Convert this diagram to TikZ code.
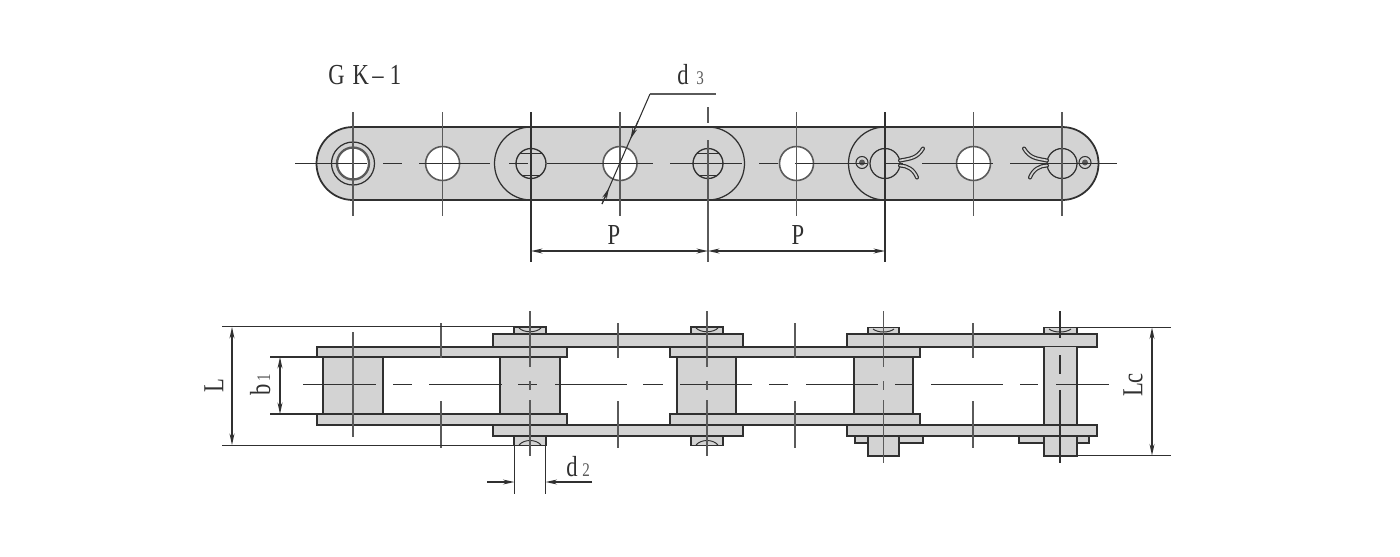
\documentclass[tikz,border=0pt]{standalone}
\usepackage{fontspec}
\setmainfont[FakeStretch=0.78]{Liberation Serif}
\usetikzlibrary{arrows.meta}
\definecolor{plate}{HTML}{D3D3D3}
\definecolor{ink}{HTML}{303030}
\definecolor{midink}{HTML}{5A5A5A}
\newcommand{\bx}[5][1.15pt]{\fill[plate] (#2,#3) rectangle (#4,#5); \draw[draw=ink,line width=#1,line join=miter] (#2,#3) rectangle (#4,#5);}
\tikzset{
  x=0.02cm,y=-0.02cm,
  axis/.style={draw=ink,line width=0.55pt},
  tick/.style={draw=midink,line width=0.85pt},
  dimline/.style={draw=ink,line width=0.6pt},
  dimarrow/.style={draw=ink,line width=0.8pt,{Stealth[length=6.5pt,width=2.8pt]}-{Stealth[length=6.5pt,width=2.8pt]}},
  label/.style={inner sep=0pt,text=ink,font=\fontsize{16.5}{18}\selectfont},
  smalllabel/.style={inner sep=0pt,text=midink,font=\fontsize{11}{12}\selectfont}
}
\begin{document}
\begin{tikzpicture}
\useasboundingbox (0,0) rectangle (1400,556);
\fill[white] (0,0) rectangle (1400,556);
% ---------------- top view ----------------
\def\axisy{163.5}
\fill[plate] (353,127) arc[start angle=-90,end angle=-270,radius=36.5] -- (1062,200) arc[start angle=90,end angle=-90,radius=36.5] -- cycle;
\draw[draw=ink,line width=1pt] (1062,127) -- (353,127) arc[start angle=-90,end angle=-270,radius=36.5] -- (1062,200);
\draw[draw=ink,line width=0.7pt] (531,127) arc[start angle=-90,end angle=-270,radius=36.5];
\draw[draw=ink,line width=0.7pt] (708,127) arc[start angle=-90,end angle=90,radius=36.5];
\draw[draw=ink,line width=0.7pt] (885,127) arc[start angle=-90,end angle=-270,radius=36.5];
\draw[draw=ink,line width=1pt] (1062,127) arc[start angle=-90,end angle=90,radius=36.5];
% open holes
\foreach \hx in {442.6,620,796.5,973.5}{
  \fill[white] (\hx,\axisy) circle[radius=17];
  \draw[draw=midink,line width=0.9pt] (\hx,\axisy) circle[radius=17];
}
% first pin with its bush
\draw[draw=ink,line width=0.7pt] (353,\axisy) circle[radius=21.5];
\fill[white] (353,\axisy) circle[radius=15.5];
\draw[draw=midink,line width=1.3pt] (353,\axisy) circle[radius=16];
% riveted pins
\foreach \px in {531,708}{
  \begin{scope}
    \clip (\px,\axisy) circle[radius=15];
    \draw[ink,line width=1.1pt] (\px-16,153.5) -- (\px+16,153.5);
    \draw[ink,line width=0.8pt] (\px-16,175.5) -- (\px+16,175.5);
  \end{scope}
  \draw[draw=ink,line width=0.75pt] (\px,\axisy) circle[radius=15];
}
% spread pins
\foreach \px/\sx in {885/1,1062/-1}{
  \draw[draw=ink,line width=0.7pt] (\px,\axisy) circle[radius=15];
  \draw[draw=ink,line width=0.6pt] (\px-23*\sx,\axisy-1) circle[radius=6];
  \fill[midink] (\px-23*\sx,\axisy-1) circle[radius=3];
  \foreach \st/\wd in {ink/2.3pt,plate/0.95pt}{
    \draw[\st,line width=\wd,line cap=round] (\px+15*\sx,\axisy-3) .. controls (\px+25*\sx,\axisy-5) and (\px+32*\sx,\axisy-5) .. (\px+38*\sx,\axisy-15);
    \draw[\st,line width=\wd,line cap=round] (\px+15*\sx,\axisy+2) .. controls (\px+22*\sx,\axisy+2) and (\px+29*\sx,\axisy+6) .. (\px+32*\sx,\axisy+14);
  }
}
% top axis
\foreach \a/\b in {295/367,383/402,419/490,509/528,547/653,670/742,759/778,795/867,884/903,922/993,1010/1117}
  \draw[axis] (\a,\axisy) -- (\b,\axisy);
% cross ticks
\foreach \tx in {353,442.6,620,796.5,973.5,1062}
  \draw[tick] (\tx,112) -- (\tx,216);
\draw[dimline,line width=0.9pt] (531,112) -- (531,262);
\draw[tick] (708,107) -- (708,123) (708,140) -- (708,262);
\draw[dimline] (885,112) -- (885,262);
% P dimensions
\coordinate (pa) at (531,251); \coordinate (pb) at (708,251); \coordinate (pc) at (885,251);
\draw[dimarrow] (pa) -- (pb);
\draw[dimarrow] (pb) -- (pc);
\node[label] (p1) at (614,235) {P};
\node[label] (p2) at (798,235) {P};
% d3 leader
\coordinate (ld0) at (602,204); \coordinate (ld1) at (650,94); \coordinate (ld2) at (716,94);
\coordinate (ldA) at (630.5,139); \coordinate (ldB) at (609,188);
\draw[dimline] (ld0) -- (ld1);
\draw[midink,line width=1pt] (ld1) -- (ld2);
\draw[ink,line width=0.6pt,-{Stealth[length=6.5pt,width=2.8pt]}] (638,121) -- (ldA);
\draw[ink,line width=0.6pt,-{Stealth[length=6.5pt,width=2.8pt]}] (602,204) -- (ldB);
\node[label,anchor=base west] (d3) at (677,84) {d};
\node[smalllabel,anchor=base west] (d3s) at (696,84) {3};
\node[label,anchor=base west] (gk) at (328,84) {G\hspace{4.5pt}K\hspace{2pt}–\hspace{3.5pt}1};
% ---------------- lower view ----------------
\def\ly{384.6}
% pin heads (drawn behind plates)
\foreach \px in {530,707}{
  \bx[1pt]{\px-16}{336}{\px+16}{326.7}
  \bx[1pt]{\px-16}{434}{\px+16}{445.5}
  \draw[ink,line width=0.55pt] (\px-11,328) .. controls (\px-6,333) and (\px+6,333) .. (\px+11,328);
  \draw[ink,line width=0.55pt] (\px-11,445) .. controls (\px-6,439) and (\px+6,439) .. (\px+11,445);
}
\bx[1pt]{867.7}{336}{899.3}{327.5}
\draw[ink,line width=0.55pt] (873,329) .. controls (878,333) and (889,333) .. (894,329);
\bx[1pt]{1044}{336}{1076.7}{327.5}
\draw[ink,line width=0.55pt] (1049,329) .. controls (1054,333) and (1066,333) .. (1071,329);
\bx[1pt]{854.7}{434}{923}{443.3}
\bx[1pt]{1019}{434}{1089.3}{443.3}
\bx[1pt]{867.7}{434}{899.3}{455.7}
\bx[1pt]{1044}{334}{1076.7}{455.7}
% rollers
\bx{322.7}{357}{382.7}{414}
\bx{500}{357}{560}{414}
\bx{676.7}{357}{736}{414}
\bx{854}{357}{913}{414}
% outer plates
\bx{493}{334.3}{743.3}{346.5}
\bx{493}{425}{743.3}{436}
\bx{847}{334.3}{1096.7}{346.5}
\bx{847}{425}{1096.7}{436}
% inner plates
\bx{316.7}{346.7}{566.7}{357}
\bx{316.7}{414}{566.7}{425}
\bx{670}{346.7}{920}{357}
\bx{670}{414}{920}{425}
\bx[0.9pt]{1044}{346.5}{1076.7}{425}
% lower axis
\foreach \a/\b in {303/376,393/412,429/502,518/537,555/627,643/663,680/752,769/788,806/878,895/913,931/1003,1020/1038,1056/1109}
  \draw[axis] (\a,\ly) -- (\b,\ly);
% lower ticks
\draw[tick] (353,332) -- (353,437);
\foreach \tx in {441,618,795,973}{
  \draw[tick] (\tx,323) -- (\tx,358);
  \draw[tick] (\tx,401) -- (\tx,448);
}
\foreach \tx/\e in {530/456,707/456,883.5/463}{
  \draw[tick] (\tx,311) -- (\tx,367);
  \draw[tick] (\tx,381) -- (\tx,390);
  \draw[tick] (\tx,400) -- (\tx,\e);
}
\draw[ink,line width=0.8pt] (1060,311) -- (1060,338);
\draw[ink,line width=0.8pt] (1060,355) -- (1060,374);
\draw[ink,line width=0.8pt] (1060,390) -- (1060,463);
% L
\coordinate (ltop) at (232,327); \coordinate (lbot) at (232,445);
\draw[dimline] (222,326.7) -- (514,326.7);
\draw[dimline] (222,445.5) -- (514,445.5);
\draw[dimarrow] (ltop) -- (lbot);
\node[label,rotate=90] (lL) at (214,386) {L};
% b1
\coordinate (btop) at (280,357); \coordinate (bbot) at (280,414);
\draw[dimline] (270,357) -- (317,357);
\draw[dimline] (270,414) -- (317,414);
\draw[dimarrow] (btop) -- (bbot);
\node[label,rotate=90,anchor=base west] (lb) at (270,396) {b};
\node[smalllabel,rotate=90,anchor=base west] (lbs) at (270,382) {1};
% d2
\coordinate (dl) at (514.4,482); \coordinate (dr) at (545.6,482);
\draw[dimline] (514.4,445) -- (514.4,494);
\draw[dimline] (545.6,445) -- (545.6,494);
\draw[ink,line width=0.7pt,-{Stealth[length=6.5pt,width=2.8pt]}] (487,482) -- (dl);
\draw[ink,line width=0.7pt,-{Stealth[length=6.5pt,width=2.8pt]}] (592,482) -- (dr);
\node[label,anchor=base west] (d2) at (566,476) {d};
\node[smalllabel,anchor=base west] (d2s) at (582,476) {2};
% Lc
\coordinate (ctop) at (1152,327.5); \coordinate (cbot) at (1152,455.5);
\draw[dimline] (1076,327.5) -- (1171,327.5);
\draw[dimline] (1076,455.5) -- (1171,455.5);
\draw[dimarrow] (ctop) -- (cbot);
\node[label,rotate=90] (lc) at (1133,385) {Lc};
\end{tikzpicture}
\end{document}
